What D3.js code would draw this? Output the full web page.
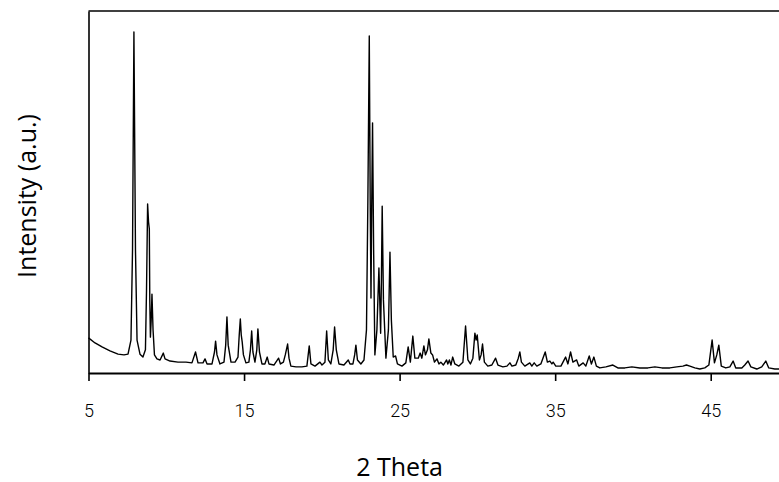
<!DOCTYPE html>
<html>
<head>
<meta charset="utf-8">
<script src="https://cdn.jsdelivr.net/npm/d3@7"></script>
<style>
  html, body { margin: 0; padding: 0; background: #fff; }
  svg { display: block; }
</style>
</head>
<body>
<svg id="chart" width="779" height="482"></svg>
<script>
// ---- Data ----
const twoTheta = [
  5.00,5.42,5.87,6.38,6.90,7.28,7.54,7.73,7.83,7.92,8.02,8.12,8.31,8.50,8.66,8.73,8.80,8.86,8.91,8.94,8.98,9.03,9.08,9.15,9.24,9.40,9.60,9.81,9.92,
  10.24,10.75,11.27,11.65,11.88,12.04,12.36,12.49,12.62,12.94,13.10,13.17,13.26,13.45,13.71,13.82,13.90,13.98,14.16,14.42,14.61,14.69,14.76,14.82,14.88,14.96,
  15.12,15.31,15.41,15.49,15.57,15.70,15.82,15.89,15.99,16.15,16.34,16.49,16.60,16.92,17.22,17.34,17.53,17.65,17.72,17.80,17.89,18.01,18.34,18.72,19.04,19.19,19.30,19.56,19.88,
  20.01,20.20,20.31,20.42,20.58,20.73,20.82,20.93,21.10,21.42,21.70,21.81,22.00,22.11,22.19,22.29,22.51,22.71,22.87,22.96,23.05,23.11,23.16,23.21,23.26,23.33,23.41,23.54,23.67,23.78,23.83,23.88,23.96,
  24.12,24.28,24.38,24.47,24.59,24.74,24.86,25.15,25.40,25.55,25.69,25.85,25.98,26.20,26.32,26.43,26.56,26.66,26.79,26.88,27.01,27.12,27.24,27.40,27.53,27.65,27.81,28.02,28.10,28.20,28.30,28.41,28.55,28.81,
  29.07,29.24,29.39,29.55,29.71,29.84,29.92,29.99,30.13,30.24,30.33,30.45,30.67,30.93,31.17,31.32,31.64,31.90,32.09,32.22,32.47,32.63,32.73,32.83,33.05,33.37,33.50,33.65,33.82,
  34.08,34.36,34.50,34.66,34.79,34.87,35.04,35.37,35.67,35.82,35.99,36.14,36.38,36.52,36.80,36.97,37.19,37.33,37.49,37.65,37.87,38.26,38.71,39.03,39.48,39.93,
  40.44,40.96,41.41,41.86,42.37,42.82,43.21,43.44,43.66,43.98,44.30,44.62,44.88,45.09,45.24,45.39,45.52,45.68,45.97,46.23,46.44,46.61,47.00,47.19,47.40,47.58,47.96,48.28,48.54,48.73,49.12,49.57,50.00
];
const intensity = [
  9.7,8.3,7.2,6.1,5.2,5.0,5.2,9.1,34.0,94.2,34.0,9.1,5.2,4.4,6.4,22.9,46.7,41.7,39.8,20.2,9.9,14.6,21.8,11.9,5.0,3.9,3.6,5.5,3.9,
  3.3,3.0,3.0,2.8,5.8,2.8,2.8,3.9,2.5,2.5,5.8,8.8,5.0,2.5,3.0,7.7,15.5,7.7,3.0,3.0,4.4,10.5,14.9,10.5,8.6,5.0,
  2.8,3.0,6.4,11.6,5.8,3.0,6.4,12.2,5.8,2.5,2.5,4.4,2.5,2.2,4.1,2.5,3.0,5.0,6.4,8.0,4.1,1.9,1.7,1.7,1.9,7.5,2.5,1.9,3.0,
  2.2,3.0,11.6,3.6,2.5,6.4,12.7,6.4,2.5,2.2,3.6,2.5,2.5,5.0,7.7,3.6,2.5,3.6,11.9,47.8,93.1,47.8,20.7,47.8,69.1,34.0,5.0,11.9,29.0,11.0,25.7,46.1,20.2,
  4.1,11.9,33.4,14.6,4.4,4.7,2.5,1.9,2.8,7.2,3.0,10.2,4.1,4.1,5.5,4.1,7.5,5.0,6.4,9.4,5.5,5.0,3.0,3.9,2.5,3.0,2.2,3.6,2.5,3.6,2.2,4.4,2.5,1.9,
  3.0,13.0,3.6,2.5,4.1,11.0,9.1,10.5,3.6,5.0,8.0,3.0,1.9,2.2,4.1,2.2,1.7,1.9,2.8,1.9,2.2,4.1,5.8,3.0,1.9,2.8,1.9,2.8,1.9,
  2.5,5.8,3.0,3.3,2.5,3.0,1.9,1.9,4.4,2.5,5.8,3.0,3.6,1.9,2.8,1.9,4.7,2.5,4.4,1.9,1.4,1.7,2.2,1.4,1.4,1.7,
  1.4,1.4,1.7,1.4,1.4,1.7,1.9,2.2,1.9,1.4,1.1,1.4,2.2,9.1,2.8,5.0,7.7,1.9,1.4,1.7,3.3,1.4,1.4,2.2,3.3,1.7,1.1,1.7,3.3,1.4,1.1,1.1,1.1
];
const xTickValues = [5, 15, 25, 35, 45];
const xLabel = "2 Theta";
const yLabel = "Intensity (a.u.)";

// ---- Layout ----
const svg = d3.select("#chart");
const mLeft = 88.5, mTop = 11, mBottom = 373;
const plotW = 700;

const x = d3.scaleLinear().domain([5, 50]).range([mLeft, mLeft + plotW]);
const y = d3.scaleLinear().domain([0, 100]).range([mBottom, mTop]);

const pts = twoTheta.map((t, i) => [t, intensity[i]]);

// trace
svg.append("path")
  .datum(pts)
  .attr("fill", "none")
  .attr("stroke", "#000")
  .attr("stroke-width", 1.4)
  .attr("stroke-linejoin", "round")
  .attr("d", d3.line().x(d => x(d[0])).y(d => y(d[1])));

// frame: top border and left axis
svg.append("line")
  .attr("x1", mLeft).attr("x2", mLeft + plotW)
  .attr("y1", mTop).attr("y2", mTop)
  .attr("stroke", "#000").attr("stroke-width", 1.6);

svg.append("g")
  .attr("transform", `translate(${mLeft},0)`)
  .call(d3.axisLeft(y).tickValues([]).tickSizeOuter(0))
  .call(g => g.select(".domain").attr("stroke-width", 1.6));

// bottom axis
const xAxis = svg.append("g")
  .attr("transform", `translate(0,${mBottom})`)
  .call(d3.axisBottom(x).tickValues(xTickValues).tickSize(8).tickSizeOuter(0).tickPadding(23).tickFormat(d3.format("d")));
xAxis.select(".domain").attr("stroke-width", 2);
xAxis.selectAll(".tick line").attr("stroke-width", 1.6);
xAxis.selectAll(".tick text")
  .attr("font-family", "Roboto, 'Noto Sans', sans-serif")
  .attr("font-weight", 300)
  .attr("font-size", 18)
  .attr("fill", "#000");

// axis titles
svg.append("text")
  .attr("x", x(25)).attr("y", 476)
  .attr("text-anchor", "middle")
  .attr("font-family", "'Open Sans', sans-serif")
  .attr("font-size", 25)
  .attr("fill", "#000")
  .text(xLabel);

svg.append("text")
  .attr("transform", `translate(36,196) rotate(-90)`)
  .attr("text-anchor", "middle")
  .attr("font-family", "'Open Sans', 'DejaVu Sans', sans-serif")
  .attr("font-size", 25)
  .attr("fill", "#000")
  .text(yLabel);
</script>
</body>
</html>
